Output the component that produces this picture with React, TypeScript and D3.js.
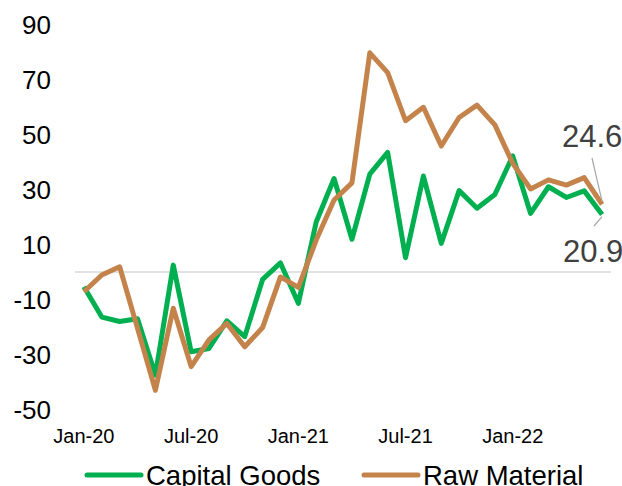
import React from "react";
import * as d3 from "d3";

const months = [
  "Jan-20","Feb-20","Mar-20","Apr-20","May-20","Jun-20","Jul-20","Aug-20","Sep-20","Oct-20","Nov-20","Dec-20",
  "Jan-21","Feb-21","Mar-21","Apr-21","May-21","Jun-21","Jul-21","Aug-21","Sep-21","Oct-21","Nov-21","Dec-21",
  "Jan-22","Feb-22","Mar-22","Apr-22","May-22","Jun-22",
];
const capitalGoods = [
  -5.4, -16.4, -18, -17, -37.5, 2.5, -29, -27.8, -17.8, -23.5, -2.7, 3.3,
  -11.4, 18.2, 34, 11.9, 35.6, 43.5, 5.2, 34.9, 10.4, 29.6, 23.2, 28.2,
  42.2, 21.3, 31, 27.1, 29.5, 20.9,
];
const rawMaterial = [
  -7.2, -1.1, 1.9, -20.5, -43, -13.2, -34.4, -24.7, -18.7, -27.2, -20.2, -1.8,
  -5.6, 11.6, 26.2, 32.4, 79.7, 72.5, 55, 59.9, 45.8, 56.2, 60.7, 53.5,
  39.5, 30.2, 33.5, 31.6, 34.3, 24.6,
];
const yTicks = [-50, -30, -10, 10, 30, 50, 70, 90];
const xTickLabels = ["Jan-20", "Jul-20", "Jan-21", "Jul-21", "Jan-22"];

const GREEN = "#00B050";
const ORANGE = "#C4834B";
const FONT = "'Liberation Sans', Arial, sans-serif";

export default function App() {
  const x = d3.scaleBand<string>().domain(months).range([75, 611]);
  const cx = (m: string) => (x(m) as number) + x.bandwidth() / 2;
  const y = d3.scaleLinear().domain([-50, 90]).range([409.5, 24.5]);

  const line = d3
    .line<number>()
    .x((_, i) => cx(months[i]))
    .y((v) => y(v));

  const lastM = months[months.length - 1];
  const lastCG = capitalGoods[capitalGoods.length - 1];
  const lastRM = rawMaterial[rawMaterial.length - 1];

  return (
    <svg
      width={622}
      height={486}
      style={{ position: "absolute", left: 0, top: 0, background: "#fff" }}
      fontFamily={FONT}
    >
      <line x1={75} x2={611} y1={y(0)} y2={y(0)} stroke="#D9D9D9" strokeWidth={1.5} />
      {yTicks.map((t) => (
        <text key={t} x={51} y={y(t)} dy="0.35em" textAnchor="end" fontSize={26} fill="#000">
          {t}
        </text>
      ))}
      {xTickLabels.map((m) => (
        <text key={m} x={cx(m)} y={443} textAnchor="middle" fontSize={20} fill="#000">
          {m}
        </text>
      ))}
      <path d={line(capitalGoods) || ""} fill="none" stroke={GREEN} strokeWidth={5} strokeLinejoin="round" />
      <path d={line(rawMaterial) || ""} fill="none" stroke={ORANGE} strokeWidth={5} strokeLinejoin="round" />

      {/* data labels */}
      <line x1={592} y1={158} x2={cx(lastM)} y2={y(lastRM) - 3} stroke="#A6A6A6" strokeWidth={1.2} />
      <text x={562} y={147} fontSize={31} fill="#404040">
        {lastRM.toFixed(1)}
      </text>
      <line x1={594} y1={226} x2={cx(lastM)} y2={y(lastCG) + 2} stroke="#A6A6A6" strokeWidth={1.2} />
      <text x={563} y={262} fontSize={31} fill="#404040">
        {lastCG.toFixed(1)}
      </text>

      {/* legend */}
      <line x1={87} x2={141} y1={475} y2={475} stroke={GREEN} strokeWidth={5} strokeLinecap="round" />
      <text x={146} y={485} fontSize={27.5} fill="#000">Capital Goods</text>
      <line x1={364} x2={418} y1={475} y2={475} stroke={ORANGE} strokeWidth={5} strokeLinecap="round" />
      <text x={423} y={485} fontSize={27.5} fill="#000">Raw Material</text>
    </svg>
  );
}
